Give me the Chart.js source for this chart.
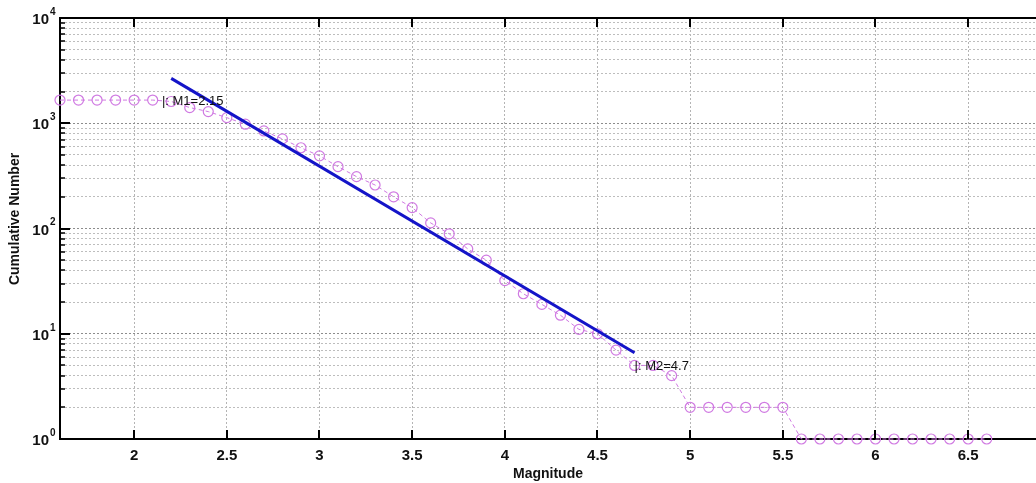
<!DOCTYPE html>
<html>
<head>
<meta charset="utf-8">
<script src="https://cdn.jsdelivr.net/npm/chart.js@4"></script>
<style>
  body { margin: 0; background: #fff; }
  #wrap { width: 1036px; height: 483px; position: relative; }
</style>
</head>
<body>
<div id="wrap"><canvas id="gr"></canvas></div>
<script>
// frequency-magnitude distribution
const magnitudes = [1.6, 1.7, 1.8, 1.9, 2.0, 2.1, 2.2, 2.3, 2.4, 2.5, 2.6, 2.7, 2.8, 2.9, 3.0,
  3.1, 3.2, 3.3, 3.4, 3.5, 3.6, 3.7, 3.8, 3.9, 4.0, 4.1, 4.2, 4.3, 4.4, 4.5, 4.6, 4.7, 4.8, 4.9,
  5.0, 5.1, 5.2, 5.3, 5.4, 5.5, 5.6, 5.7, 5.8, 5.9, 6.0, 6.1, 6.2, 6.3, 6.4, 6.5, 6.6];
const cumulative = [1660, 1660, 1660, 1660, 1660, 1660, 1610, 1410, 1290, 1130, 980, 845, 710, 585, 490,
  387, 311, 259, 200, 158, 113, 89, 64, 50, 32, 24, 19, 15, 11, 10, 7, 5, 5, 4,
  2, 2, 2, 2, 2, 2, 1, 1, 1, 1, 1, 1, 1, 1, 1, 1, 1];

// least-squares line between M1 and M2
const fitMag = [2.2, 4.7];
const fitN = [2670, 6.6];

const M1 = 2.15, M1N = 1660;
const M2 = 4.7, M2N = 5;

const xTicks = [2, 2.5, 3, 3.5, 4, 4.5, 5, 5.5, 6, 6.5];
const decades = [1, 10, 100, 1000, 10000];
const yTicks = [];
decades.slice(0, 4).forEach(d => { for (let k = 1; k < 10; k++) yTicks.push(d * k); });
yTicks.push(10000);

const FONT = 'Arial, "Liberation Sans", sans-serif';
const isDecade = v => decades.includes(v);

const axesExtra = {
  id: 'axesExtra',
  afterDatasetsDraw(chart) {
    const { ctx, chartArea: a, scales: { x, y } } = chart;
    ctx.save();
    ctx.strokeStyle = '#000';
    ctx.lineWidth = 2;
    ctx.beginPath();
    ctx.moveTo(a.left, a.top); ctx.lineTo(a.right, a.top);
    ctx.stroke();
    // inward ticks, bottom and top
    x.ticks.forEach(t => {
      const px = Math.round(x.getPixelForValue(t.value));
      ctx.beginPath();
      ctx.moveTo(px, a.bottom); ctx.lineTo(px, a.bottom - 9);
      ctx.moveTo(px, a.top); ctx.lineTo(px, a.top + 9);
      ctx.stroke();
    });
    y.ticks.forEach(t => {
      const py = Math.round(y.getPixelForValue(t.value));
      const major = isDecade(t.value);
      ctx.lineWidth = major ? 2 : 1.5;
      ctx.beginPath();
      ctx.moveTo(a.left, py); ctx.lineTo(a.left + (major ? 10 : 5), py);
      ctx.stroke();
    });

    // M1 / M2 markers
    ctx.fillStyle = '#111';
    ctx.font = '13px ' + FONT;
    ctx.textAlign = 'left';
    ctx.textBaseline = 'middle';
    ctx.fillText('|: M1=' + M1, x.getPixelForValue(M1), y.getPixelForValue(M1N) + 1);
    ctx.fillText('|: M2=' + M2, x.getPixelForValue(M2), y.getPixelForValue(M2N) + 1);
    ctx.restore();
  },
  afterDraw(chart) {
    // 10^n labels on the log axis
    const { ctx, scales: { y } } = chart;
    ctx.save();
    ctx.fillStyle = '#111';
    ctx.textBaseline = 'middle';
    decades.forEach((d, i) => {
      const py = y.getPixelForValue(d);
      ctx.font = 'bold 15px ' + FONT;
      ctx.textAlign = 'right';
      ctx.fillText('10', 49, py + 2);
      ctx.font = 'bold 10px ' + FONT;
      ctx.textAlign = 'left';
      ctx.fillText(String(i), 50, py - 6);
    });
    // axis name, sits a little above the middle of the axis
    ctx.translate(15, 219);
    ctx.rotate(-Math.PI / 2);
    ctx.font = 'bold 14px ' + FONT;
    ctx.textAlign = 'center';
    ctx.fillText('Cumulative Number', 0, 0);
    ctx.restore();
  }
};

new Chart(document.getElementById('gr'), {
  type: 'scatter',
  data: {
    datasets: [{
      label: 'fit',
      data: fitMag.map((m, i) => ({ x: m, y: fitN[i] })),
      showLine: true,
      borderColor: '#1414c8',
      borderWidth: 3,
      pointRadius: 0,
      order: 0
    }, {
      label: 'Cumulative Number',
      data: magnitudes.map((m, i) => ({ x: m, y: cumulative[i] })),
      showLine: true,
      borderColor: '#d07ae2',
      borderWidth: 1,
      borderDash: [4, 3],
      pointRadius: 5,
      pointBorderWidth: 1.2,
      pointBorderColor: '#d07ae2',
      pointBackgroundColor: 'rgba(0,0,0,0)',
      clip: false,
      order: 1
    }]
  },
  options: {
    responsive: true, maintainAspectRatio: false,
    animation: false,
    layout: { autoPadding: false, padding: { top: 18, right: 0, left: 0, bottom: 0 } },
    plugins: { legend: { display: false }, tooltip: { enabled: false } },
    scales: {
      x: {
        type: 'linear',
        min: 1.6, max: 6.866,
        afterBuildTicks: s => { s.ticks = xTicks.map(v => ({ value: v })); },
        afterFit: s => { s.height = 44; s.paddingLeft = 0; s.paddingRight = 0; },
        ticks: { color: '#111', padding: 8, font: { family: FONT, size: 15, weight: 'bold' }, maxRotation: 0,
                 callback: v => String(v) },
        grid: { color: '#b4b4b4', lineWidth: 1, drawTicks: false },
        border: { color: '#000', width: 2, dash: [2, 2] },
        title: { display: true, text: 'Magnitude', color: '#111', padding: { top: 0, bottom: 0 },
                 font: { family: FONT, size: 14, weight: 'bold' } }
      },
      y: {
        type: 'logarithmic',
        min: 1, max: 10000,
        afterBuildTicks: s => { s.ticks = yTicks.map(v => ({ value: v, major: isDecade(v) })); },
        afterFit: s => { s.width = 60; },
        ticks: { display: false },
        grid: {
          color: c => (c.tick && isDecade(c.tick.value)) ? '#8c8c8c' : '#bdbdbd',
          lineWidth: 1, drawTicks: false
        },
        border: { color: '#000', width: 2, dash: [2, 2] }
      }
    }
  },
  plugins: [axesExtra]
});
</script>
</body>
</html>
